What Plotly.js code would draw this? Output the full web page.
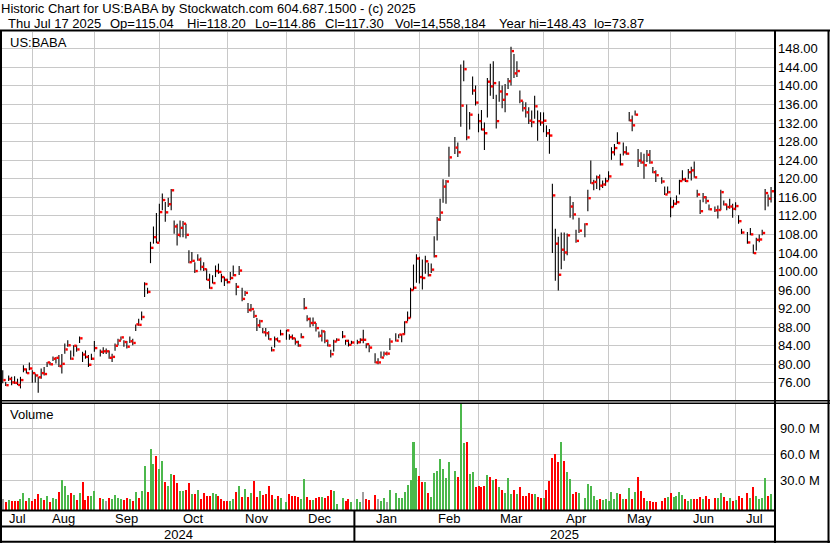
<!DOCTYPE html>
<html><head><meta charset="utf-8">
<script src="https://cdn.plot.ly/plotly-3.0.1.min.js"></script>
<style>html,body{margin:0;padding:0;background:#fff;overflow:hidden}#chart{width:830px;height:543px}</style>
</head><body><div id="chart"></div>
<script>
// ---------- data ----------
const firstDay = '2024-07-18';
const lastDay  = '2025-07-17';
const holidays = ['2024-09-02','2024-11-28','2024-12-25','2025-01-01','2025-01-09','2025-01-20',
                  '2025-02-17','2025-04-18','2025-05-26','2025-06-19','2025-07-04'];

const hi = [
 78.7,76.2,77.6,77.3,77.4,76.9,77.3,79.8,79.1,80.4,78.7,78.0,77.3,79.1,79.4,80.5,80.5,81.7,81.6,82.0,82.2,84.5,85.2,83.0,84.1,84.1,86.0,82.7,83.0,82.0,82.3,85.0,
 83.2,83.7,83.4,83.0,82.3,84.5,85.5,86.0,85.2,85.0,86.0,85.5,88.6,89.8,91.4,97.7,96.5,106.4,109.7,112.6,
 114.6,116.8,115.0,115.9,117.8,111.0,110.3,111.0,110.9,110.3,104.6,104.2,102.0,103.7,103.0,102.0,100.6,99.5,99.2,101.3,101.7,99.5,98.8,
 98.45,99.9,101.3,97.5,101.2,96.5,95.8,93.2,93.0,91.6,90.0,89.6,87.8,87.8,87.1,83.8,86.0,85.8,87.45,87.45,
 86.5,86.4,85.64,85.06,86.7,94.3,90.56,90.1,90.1,88.9,87.09,87.45,87.2,85.28,83.11,85.28,85.64,87.2,85.28,85.28,85.06,
 85.28,85.64,87.45,84.56,84.2,82.4,81.3,82.75,82.75,82.75,85.64,86.7,86.5,86.5,89.26,91.4,96.5,101.5,103.7,103.2,
 102.6,103.4,101.9,101.7,107.6,111.75,115.7,119.9,119.7,126.9,129.0,127.8,144.6,145.5,136.0,134.4,142.0,140.1,134.0,
 134.8,132.1,141.7,144.8,145.3,138.1,141.0,140.1,140.4,141.7,148.43,146.9,145.3,139.0,136.7,136.5,135.4,134.7,137.9,134.7,134.3,
 134.3,131.5,130.7,118.9,109.2,107.5,108.4,108.4,108.2,116.2,115.0,109.0,111.6,110.4,117.6,123.9,119.8,120.7,120.9,119.6,120.2,
 121.6,126.8,127.5,130.0,125.4,127.8,127.0,134.35,133.6,134.7,126.4,125.7,125.4,126.2,126.2,122.5,121.8,120.3,118.3,118.3,116.0,
 115.45,116.4,119.8,121.8,120.2,122.1,122.6,123.7,117.6,115.45,116.9,116.2,114.45,114.0,114.2,117.6,115.3,114.6,115.67,114.6,
 114.95,112.1,109.2,108.5,109.4,105.8,107.3,108.0,109.0,117.8,116.6,118.2
];
const lo = [
 75.9,75.3,76.4,75.5,75.8,75.5,74.8,78.3,78.0,78.7,76.0,76.1,73.87,76.9,77.6,79.4,79.8,80.7,80.15,79.4,78.0,82.3,83.8,81.0,81.7,82.7,84.6,80.5,81.2,79.4,80.9,82.7,
 81.7,82.2,82.2,81.2,80.5,82.9,84.1,85.2,83.8,83.4,84.6,84.1,87.2,88.3,89.5,94.5,95.2,101.8,106.0,106.1,
 106.4,113.2,110.7,113.9,113.2,108.15,105.6,107.4,107.4,107.1,101.8,102.0,99.7,102.3,100.2,100.1,98.1,96.3,97.4,98.8,99.5,97.7,96.9,
 97.4,98.1,99.0,94.9,99.24,93.6,94.7,91.07,91.4,90.0,87.2,87.8,86.7,86.0,85.3,82.75,83.6,84.9,86.2,85.3,
 85.3,85.3,84.2,83.8,85.64,91.8,89.26,87.96,88.2,87.09,85.8,84.9,84.56,83.83,81.45,82.75,84.9,85.64,84.2,83.83,84.34,
 84.34,84.56,84.56,83.47,82.6,80.2,80.0,81.3,81.66,81.88,83.1,84.9,85.64,84.77,86.36,89.26,90.0,96.0,97.6,97.4,
 96.1,99.5,98.9,99.7,103.0,106.7,110.9,114.8,114.6,120.4,125.3,124.7,131.2,141.0,128.3,130.6,138.1,135.75,130.0,
 130.4,126.2,133.2,137.9,137.2,130.8,136.6,135.2,134.3,139.35,140.1,141.7,141.9,136.25,134.5,133.2,131.8,131.1,132.9,128.2,131.4,
 130.0,129.0,125.4,104.0,98.0,95.9,100.5,102.3,103.5,111.6,111.2,106.2,108.3,107.4,113.0,118.9,117.5,117.8,117.5,118.0,118.5,
 119.6,124.07,125.0,127.5,122.85,125.0,125.15,132.4,130.25,133.6,122.5,123.2,120.0,123.6,123.2,121.2,119.3,118.9,116.5,116.75,111.7,
 113.9,114.4,116.6,119.6,119.3,120.0,119.6,120.2,116.0,112.4,114.95,114.6,113.2,112.8,111.4,113.2,114.2,113.2,113.5,111.6,
 113.2,110.3,108.1,106.0,107.8,103.8,104.5,106.3,107.8,113.2,114.0,114.86
];
const cl = [
 76.6,75.5,76.85,76.1,76.0,75.55,76.6,78.9,78.1,79.1,78.1,77.6,77.2,78.1,77.9,80.4,80.0,81.2,81.4,79.6,80.1,83.2,84.1,81.2,84.0,83.2,85.6,82.1,81.6,79.9,81.2,83.5,
 82.7,82.8,82.8,81.4,81.6,84.0,85.1,85.8,84.8,83.8,84.96,84.6,88.6,88.5,90.2,97.3,95.6,105.1,107.4,106.2,
 112.8,115.4,112.75,114.5,117.5,109.7,107.9,109.4,110.3,107.9,102.0,102.3,100.1,102.55,101.0,100.5,98.2,96.45,97.5,100.1,99.9,98.8,98.2,
 97.7,98.6,99.2,96.7,100.2,94.1,95.4,91.7,91.9,90.4,88.4,89.3,86.9,86.7,85.4,83.04,85.4,84.95,86.5,87.3,
 85.86,85.6,84.8,84.05,85.86,92.15,89.76,88.9,88.95,87.8,86.15,87.09,85.06,84.05,82.17,84.9,85.28,86.0,85.06,84.2,84.7,
 84.75,85.28,85.28,84.34,83.6,80.4,80.4,81.45,82.3,82.3,84.9,85.1,86.4,86.5,89.1,89.98,96.0,96.5,102.8,98.8,
 98.6,102.2,99.2,100.4,103.3,111.2,112.7,118.3,119.4,124.6,126.7,125.7,135.75,143.6,128.9,133.8,139.0,136.4,132.4,
 130.6,129.8,140.9,139.9,140.6,132.4,138.8,137.0,138.2,141.0,147.5,142.7,143.2,136.8,135.2,134.3,132.5,132.2,135.6,132.4,132.1,
 132.5,129.8,129.3,116.4,106.0,99.3,104.7,104.1,107.8,114.0,112.3,106.6,108.8,110.2,115.8,119.05,119.3,120.3,118.5,118.75,119.5,
 120.5,125.7,126.6,127.66,123.1,125.7,125.4,132.55,131.5,133.8,123.9,123.5,122.9,125.15,123.5,121.4,120.75,119.4,116.6,117.1,113.9,
 114.6,114.95,119.5,119.85,119.5,121.4,121.8,120.3,116.6,113.0,116.0,115.2,113.4,113.2,113.25,117.1,114.45,113.9,114.0,113.5,
 114.1,110.85,108.4,106.26,108.0,103.96,106.83,106.9,108.3,116.9,115.7,117.3
];
const volM = [
 8.8,5.4,7.3,6.2,6.2,6.2,8.5,15.4,6.2,9.6,6.5,8.5,14.2,9.6,7.3,11.5,5.4,9.6,8.1,16.5,30.4,23.5,13.1,15.4,13.1,7.7,15.4,28.1,7.3,11.9,11.9,17.7,
 9.6,8.5,6.5,9.6,8.8,13.1,9.2,8.1,7.3,9.2,8.5,6.5,16.5,10.0,18.1,46.5,16.5,65.8,48.8,58.1,
 42.7,52.3,28.5,23.5,37.3,36.2,27.3,18.1,17.3,18.8,26.9,14.2,14.2,18.8,8.5,15.0,11.9,11.9,15.4,14.6,11.9,8.5,6.2,
 6.2,6.2,8.5,16.5,23.5,10.8,20.0,10.8,15.4,29.2,10.8,17.7,13.1,14.2,23.5,13.1,8.5,11.9,10.0,5.0,
 14.2,11.9,11.9,10.8,8.8,31.5,10.8,7.7,7.3,9.6,10.8,10.8,9.6,11.9,18.8,18.1,2.7,9.6,6.2,8.5,5.0,
 8.5,5.0,16.5,8.5,7.7,13.1,8.5,6.2,9.6,5.0,18.8,15.4,9.6,9.6,16.5,24.2,30.4,74.2,44.2,35.0,
 28.5,28.5,15.4,10.8,38.8,41.2,54.6,43.1,33.1,51.2,41.2,33.8,119.6,73.5,74.2,37.3,39.6,22.7,23.5,
 22.7,23.5,36.2,33.8,30.4,31.5,22.3,18.8,15.4,32.7,14.2,18.8,14.2,22.3,11.9,11.9,15.4,14.2,14.2,10.8,9.6,
 9.6,18.8,29.2,55.8,60.4,51.2,74.2,52.3,39.6,31.5,14.2,16.5,15.4,9.6,25.8,23.5,11.9,7.3,8.5,7.3,8.5,
 6.2,16.5,8.5,15.4,14.2,8.5,8.5,21.2,8.5,16.5,33.8,17.7,9.6,6.2,6.2,5.0,5.0,6.2,9.6,10.8,15.4,
 10.8,11.9,16.5,13.1,8.5,6.2,8.5,8.5,8.5,10.8,8.5,11.9,8.0,9.6,9.6,15.4,10.8,6.2,9.6,6.2,
 7.3,11.9,9.6,15.4,9.6,22.3,11.9,8.5,9.6,32.7,11.9,14.56
];

const priceTicks = [76,80,84,88,92,96,100,104,108,112,116,120,124,128,132,136,140,144,148];
const volTicks = [30,60,90];
const monthStarts = ['2024-08-01','2024-09-01','2024-10-01','2024-11-01','2024-12-01','2025-01-01',
                     '2025-02-01','2025-03-01','2025-04-01','2025-05-01','2025-06-01','2025-07-01'];
const monthLabels = ['Jul','Aug','Sep','Oct','Nov','Dec','Jan','Feb','Mar','Apr','May','Jun','Jul'];
const yearLabels = ['2024','2025'];
const yearStart = '2025-01-01';
const titleLine = 'Historic Chart for US:BABA by Stockwatch.com 604.687.1500 - (c) 2025';
const infoFields = ['Thu Jul 17 2025','Op=115.04','Hi=118.20','Lo=114.86','Cl=117.30','Vol=14,558,184','Year hi=148.43','lo=73.87'];
const symbol = 'US:BABA';

// ---------- slots (weekday positions, holidays left empty) ----------
const DAY = 864e5;
const T0 = Date.parse(firstDay + 'T00:00:00Z');
const T1 = Date.parse(lastDay + 'T00:00:00Z');
const hol = new Set(holidays);
const isWk = t => { const w = new Date(t).getUTCDay(); return w !== 0 && w !== 6; };
const xs = [];
let slot = 0;
for (let t = T0; t <= T1; t += DAY) {
  if (!isWk(t)) continue;
  if (!hol.has(new Date(t).toISOString().slice(0, 10))) xs.push(slot);
  slot++;
}
function boundary(ds) {
  const T = Date.parse(ds + 'T00:00:00Z');
  let n = 0;
  for (let t = T0; t < T; t += DAY) if (isWk(t)) n++;
  return isWk(T) ? n : n - 1;
}
const grid = monthStarts.map(boundary);

// ---------- geometry ----------
const W = 830, H = 543;
const fx = p => p / W, fy = p => 1 - p / H;
const pitch = 2.955, x0px = 2.75;              // px per slot, px of slot 0
const plotL = 2, plotR = 774;
const xr = [(plotL - x0px) / pitch, (plotR - x0px) / pitch];
const priceTop = 32, priceBot = 400, ppu = 4.64, y120 = 178.7;
const pr = [120 - (priceBot - y120) / ppu, 120 + (y120 - priceTop) / ppu];
const volTop = 404, volBot = 510, vZero = 506.3, pxPerM = 26 / 30;
const vr = [-(volBot - vZero) / pxPerM, (vZero - volTop) / pxPerM];

// ---------- traces ----------
const bx = [], by = [], cx = [], cy = [], vcol = [];
for (let i = 0; i < xs.length; i++) {
  bx.push(xs[i], xs[i], null); by.push(lo[i], hi[i], null);
  cx.push(xs[i] + 0.6); cy.push(cl[i]);
  const d = i === 0 ? 0 : Math.round((cl[i] - cl[i - 1]) * 100);
  vcol.push(d > 0 ? '#4cb84c' : d < 0 ? '#ff0000' : '#a0a0a0');
}
const traces = [
  {type: 'scatter', mode: 'lines', x: bx, y: by, xaxis: 'x', yaxis: 'y',
   line: {color: '#000', width: 1.1}, hoverinfo: 'skip'},
  {type: 'scatter', mode: 'markers', x: cx, y: cy, xaxis: 'x', yaxis: 'y',
   marker: {symbol: 'square', size: 2.4, color: '#ff0000', line: {width: 0}}, hoverinfo: 'skip'},
  {type: 'bar', x: xs, y: volM.map(v => v - vr[0]), base: vr[0], width: 0.68, xaxis: 'x2', yaxis: 'y2',
   marker: {color: vcol, line: {width: 0}}, hoverinfo: 'skip'}
];

// ---------- layout ----------
const font = {family: 'Arial, "Liberation Sans", sans-serif', size: 13, color: '#000'};
const gridc = '#c8c8c8';
const xcommon = {range: xr, domain: [fx(plotL), fx(plotR)], tickvals: grid, showgrid: true, gridcolor: gridc,
  gridwidth: 1, showticklabels: false, ticks: '', zeroline: false, showline: false, fixedrange: true};
const layout = {
  width: W, height: H, margin: {l: 0, r: 0, t: 0, b: 0}, paper_bgcolor: '#fff', plot_bgcolor: '#fff',
  showlegend: false, hovermode: false, font: font, bargap: 0,
  xaxis: Object.assign({anchor: 'y'}, xcommon),
  xaxis2: Object.assign({anchor: 'y2'}, xcommon),
  yaxis: {domain: [fy(priceBot), fy(priceTop)], range: pr, side: 'right', anchor: 'x',
    tickvals: priceTicks, ticktext: priceTicks.map(v => v.toFixed(2)), showgrid: true, gridcolor: gridc,
    ticks: '', ticklabelstandoff: 3, zeroline: false, showline: false, tickfont: font, fixedrange: true},
  yaxis2: {domain: [fy(volBot), fy(volTop)], range: vr, side: 'right', anchor: 'x2',
    tickvals: volTicks, ticktext: volTicks.map(v => v.toFixed(1) + ' M'), showgrid: true, gridcolor: gridc,
    ticks: '', ticklabelstandoff: 5, zeroline: false, showline: false, tickfont: font, fixedrange: true},
  shapes: [], annotations: []
};
const L = (xa, ya, xb, yb, w) => layout.shapes.push({type: 'line', xref: 'paper', yref: 'paper',
  x0: fx(xa), y0: fy(ya), x1: fx(xb), y1: fy(yb), line: {color: '#000', width: w}});
L(0, 30.5, 830, 30.5, 2);      // header rule
L(1, 30, 1, 543, 2);           // left frame
L(775, 30, 775, 543, 2);       // axis frame
L(828.5, 30, 828.5, 543, 2);   // right frame
L(0, 400.8, 830, 400.8, 1.5);  // double separator
L(0, 403.3, 830, 403.3, 1.5);
L(0, 510.5, 775, 510.5, 2);    // under volume
L(0, 526.5, 775, 526.5, 2);    // month / year
L(0, 541.8, 830, 541.8, 2);    // bottom
const yb = boundary(yearStart);
layout.shapes.push({type: 'line', xref: 'x2', yref: 'paper', x0: yb, x1: yb, y0: fy(510), y1: fy(542),
  line: {color: '#000', width: 2}});

const A = (o) => layout.annotations.push(Object.assign({showarrow: false, font: font, borderpad: 0}, o));
A({xref: 'paper', yref: 'paper', x: fx(0), y: fy(8.5), xanchor: 'left', yanchor: 'middle', text: titleLine});
const infoX = [7, 108.7, 186, 254, 324, 394.3, 498.3, 593.3];
infoFields.forEach((t, i) => A({xref: 'paper', yref: 'paper', x: fx(infoX[i]), y: fy(23.5), xanchor: 'left', yanchor: 'middle', text: t}));
A({xref: 'paper', yref: 'paper', x: fx(9), y: fy(42), xanchor: 'left', yanchor: 'middle', text: symbol});
A({xref: 'paper', yref: 'paper', x: fx(9.3), y: fy(414), xanchor: 'left', yanchor: 'middle', text: 'Volume'});
const edges = [xr[0]].concat(grid, [xr[1]]);
monthLabels.forEach((m, i) => A({xref: 'x2', yref: 'paper', x: (edges[i] + edges[i + 1]) / 2, y: fy(518),
  xanchor: 'center', yanchor: 'middle', text: m}));
const yEdges = [xr[0], yb, xr[1]];
yearLabels.forEach((t, i) => A({xref: 'x2', yref: 'paper', x: (yEdges[i] + yEdges[i + 1]) / 2, y: fy(534.5),
  xanchor: 'center', yanchor: 'middle', text: t}));

Plotly.newPlot('chart', traces, layout, {staticPlot: true, displayModeBar: false});
</script></body></html>
